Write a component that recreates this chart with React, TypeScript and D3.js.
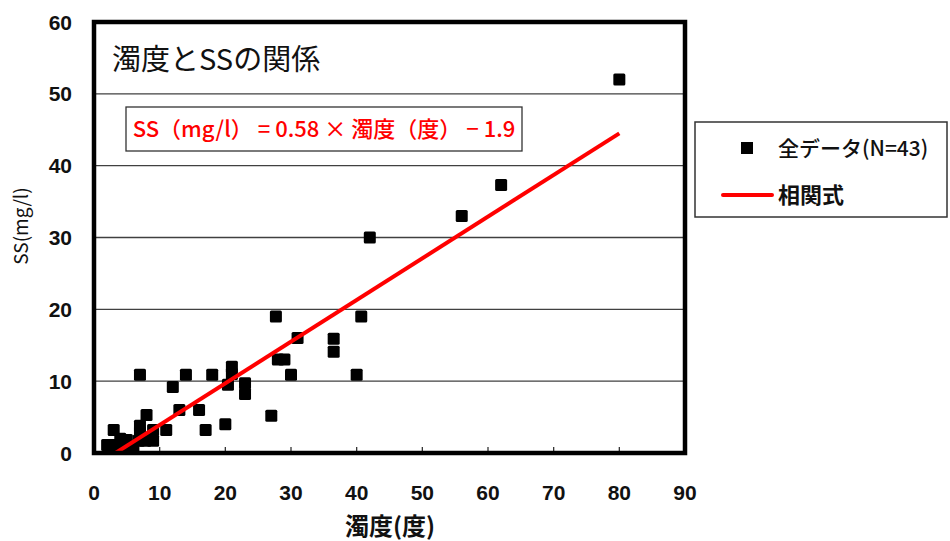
import React from "react";
import * as d3 from "d3";

// 濁度 (x) と SS (y) の実測値
const turbidity = [80, 62, 56, 42, 27.7, 40.7, 31, 36.5, 36.5, 28, 29, 30, 40, 27, 14, 18, 21, 21, 20.4, 23, 23, 12, 7, 13, 16, 17, 20, 11, 8, 2, 3.2, 3, 4, 5, 5.2, 7, 7, 6.8, 9, 9, 7.8, 6, 4];
const ssValues = [52, 37.3, 33, 30, 19, 19, 16, 15.9, 14.1, 13, 13, 10.9, 10.9, 5.2, 10.9, 10.9, 12, 11, 9.5, 9.7, 8.2, 9.2, 10.9, 6, 6, 3.2, 4, 3.2, 5.3, 1.1, 1.1, 3.2, 2, 1.8, 1, 3.8, 2.9, 1.7, 3.2, 1.7, 1.7, 0.6, 1];
const xTicks = [0, 10, 20, 30, 40, 50, 60, 70, 80, 90];
const yTicks = [0, 10, 20, 30, 40, 50, 60];
const slope = 0.58;
const intercept = -1.9;
const fitRange = [2.2, 80];

const numFont = "'Liberation Sans', Arial, sans-serif";
const jpFont = "'Noto Sans CJK JP', 'Noto Sans', sans-serif";

export default function App() {
  const left = 94, right = 685, top = 22, bottom = 453;
  const x = d3.scaleLinear().domain([0, 90]).range([left, right]);
  const y = d3.scaleLinear().domain([0, 60]).range([bottom, top]);
  const pts = turbidity.map((t, i) => ({ t, s: ssValues[i] }));
  const fit = d3.line<number>().x(d => x(d)).y(d => y(slope * d + intercept));
  const m = 12;

  return (
    <svg width={950} height={541} style={{ position: "absolute", left: 0, top: 0, background: "#fff" }}>
      <defs>
        <clipPath id="plot">
          <rect x={left} y={top} width={right - left} height={bottom - top} />
        </clipPath>
      </defs>
      {/* grid */}
      {yTicks.filter(v => v > 0 && v < 60).map(v => (
        <line key={"g" + v} x1={left} x2={right} y1={y(v)} y2={y(v)} stroke="#404040" strokeWidth={1.3} />
      ))}
      {/* inner bottom ticks */}
      {xTicks.filter(v => v > 0 && v < 90).map(v => (
        <line key={"t" + v} x1={x(v)} x2={x(v)} y1={bottom} y2={bottom - 6} stroke="#333" strokeWidth={1.3} />
      ))}
      {/* title */}
      <text x={112} y={70} fontFamily={jpFont} fontSize={29} fontWeight={400} fill="#111">濁度とSSの関係</text>
      {/* equation box */}
      <rect x={126} y={107} width={396} height={44} fill="#fff" stroke="#333" strokeWidth={1.3} />
      <text x={324} y={137} textAnchor="middle" fontFamily={jpFont} fontSize={22} fontWeight={500} fill="#ff0000">
        SS（mg/l） = 0.58 × 濁度（度） − 1.9
      </text>
      {/* points */}
      {pts.map((p, i) => (
        <rect key={i} x={x(p.t) - m / 2} y={y(p.s) - m / 2} width={m} height={m} rx={1.5} fill="#000" />
      ))}
      {/* regression line */}
      <path d={fit(fitRange) || ""} stroke="#ff0000" strokeWidth={4} fill="none" clipPath="url(#plot)" />
      {/* frame */}
      <rect x={left} y={top} width={right - left} height={bottom - top} fill="none" stroke="#000" strokeWidth={4.5} />
      {/* y tick labels */}
      {yTicks.map(v => (
        <text key={"y" + v} x={72} y={y(v)} dy="0.36em" textAnchor="end" fontFamily={numFont} fontSize={21} fontWeight="bold" fill="#111">{v}</text>
      ))}
      {/* x tick labels */}
      {xTicks.map(v => (
        <text key={"x" + v} x={x(v)} y={492} dy="0.36em" textAnchor="middle" fontFamily={numFont} fontSize={21} fontWeight="bold" fill="#111">{v}</text>
      ))}
      {/* axis titles */}
      <text x={390} y={535} textAnchor="middle" fontFamily={jpFont} fontSize={24} fontWeight="bold" fill="#111">濁度(度)</text>
      <text transform="translate(28,226) rotate(-90)" textAnchor="middle" fontFamily={jpFont} fontSize={19} fill="#111">SS(mg/l)</text>
      {/* legend */}
      <rect x={695} y={122} width={252} height={95} fill="#fff" stroke="#333" strokeWidth={1.5} />
      <rect x={741} y={142} width={12} height={12} fill="#000" />
      <text x={778} y={148} dy="0.36em" fontFamily={jpFont} fontSize={21} fontWeight={500} fill="#111">全データ(N=43)</text>
      <line x1={723} x2={772} y1={195} y2={195} stroke="#ff0000" strokeWidth={4} strokeLinecap="round" />
      <text x={778} y={195} dy="0.36em" fontFamily={jpFont} fontSize={22} fontWeight="bold" fill="#111">相関式</text>
    </svg>
  );
}
